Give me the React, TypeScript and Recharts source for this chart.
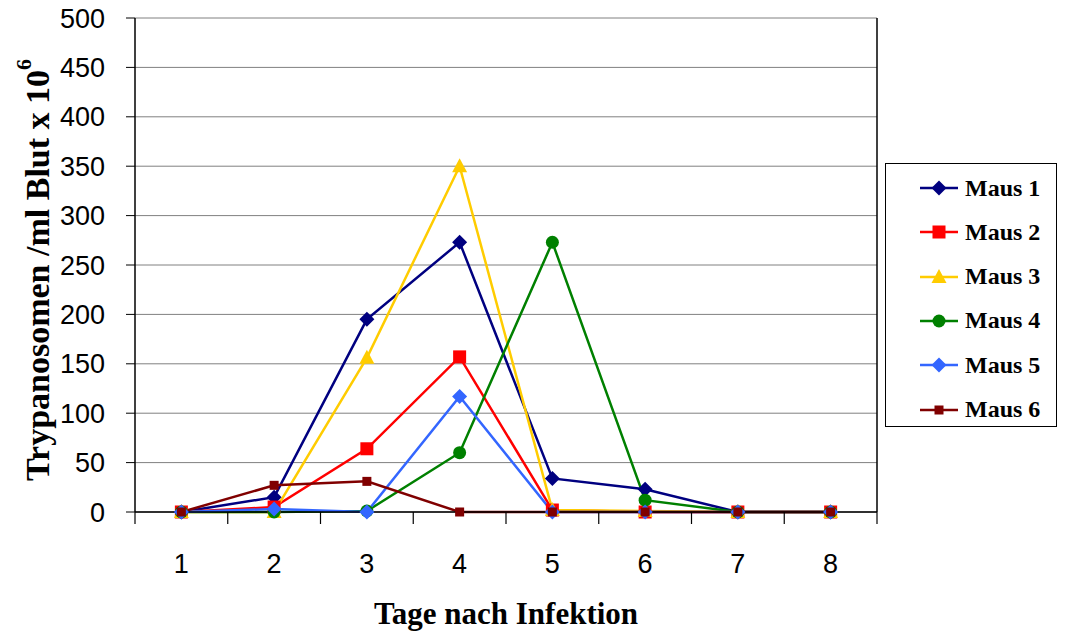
import { LineChart, Line, XAxis, YAxis, CartesianGrid, Label } from 'recharts';

const days = [1, 2, 3, 4, 5, 6, 7, 8];
const maus1 = [0, 15, 195, 273, 34, 23, 0, 0];
const maus2 = [0, 5, 64, 157, 2, 0, 0, 0];
const maus3 = [0, 0, 156, 350, 2, 1, 0, 0];
const maus4 = [0, 0, 1, 60, 273, 12, 0, 0];
const maus5 = [0, 3, 0, 117, 0, 0, 0, 0];
const maus6 = [0, 27, 31, 0, 0, 0, 0, 0];
const yTicks = [0, 50, 100, 150, 200, 250, 300, 350, 400, 450, 500];
const dividerTicks = [0.5, 1.5, 2.5, 3.5, 4.5, 5.5, 6.5, 7.5, 8.5];

type Shape = 'diamond' | 'square' | 'triangle' | 'circle' | 'smallSquare';

const series: { key: string; name: string; color: string; shape: Shape; values: number[] }[] = [
  { key: 'm1', name: 'Maus 1', color: '#000080', shape: 'diamond', values: maus1 },
  { key: 'm2', name: 'Maus 2', color: '#FF0000', shape: 'square', values: maus2 },
  { key: 'm3', name: 'Maus 3', color: '#FFCC00', shape: 'triangle', values: maus3 },
  { key: 'm4', name: 'Maus 4', color: '#008000', shape: 'circle', values: maus4 },
  { key: 'm5', name: 'Maus 5', color: '#3366FF', shape: 'diamond', values: maus5 },
  { key: 'm6', name: 'Maus 6', color: '#800000', shape: 'smallSquare', values: maus6 },
];

const data = days.map((day, i) => {
  const row: Record<string, number> = { day };
  series.forEach(s => {
    row[s.key] = s.values[i];
  });
  return row;
});

function Marker({ cx, cy, shape, color }: { cx: number; cy: number; shape: Shape; color: string }) {
  switch (shape) {
    case 'diamond':
      return <path d={`M${cx},${cy - 7.5}L${cx + 7.5},${cy}L${cx},${cy + 7.5}L${cx - 7.5},${cy}Z`} fill={color} />;
    case 'square':
      return <rect x={cx - 6.5} y={cy - 6.5} width={13} height={13} fill={color} />;
    case 'triangle':
      return <path d={`M${cx},${cy - 8}L${cx + 7.5},${cy + 6}L${cx - 7.5},${cy + 6}Z`} fill={color} />;
    case 'circle':
      return <circle cx={cx} cy={cy} r={6.5} fill={color} />;
    default:
      return <rect x={cx - 4.5} y={cy - 4.5} width={9} height={9} fill={color} />;
  }
}

const makeDot = (shape: Shape, color: string) => (props: any) => {
  const { cx, cy, index } = props;
  if (cx == null || cy == null) return <g key={`e-${index}`} />;
  return (
    <g key={`d-${index}`}>
      <Marker cx={cx} cy={cy} shape={shape} color={color} />
    </g>
  );
};

const YTitle = (props: any) => {
  const { viewBox } = props;
  const cx = 37;
  const cy = viewBox.y + viewBox.height / 2 + 5;
  return (
    <text
      x={cx}
      y={cy}
      transform={`rotate(-90 ${cx} ${cy})`}
      textAnchor="middle"
      dominantBaseline="central"
      fontFamily="'Liberation Serif', 'Times New Roman', serif"
      fontWeight="bold"
      fontSize={34}
      fill="#000"
    >
      Trypanosomen /ml Blut x 10
      <tspan fontSize={22} dy={-14}>6</tspan>
    </text>
  );
};

function LegendBox() {
  return (
    <div
      style={{
        position: 'absolute',
        left: 885,
        top: 163,
        width: 170,
        height: 262,
        border: '1px solid #000',
        background: '#fff',
        boxSizing: 'content-box',
      }}
    >
      {series.map((s, i) => (
        <div
          key={s.key}
          style={{ position: 'absolute', left: 0, top: 2 + i * 44.3, height: 44, width: 170, display: 'flex', alignItems: 'center' }}
        >
          <svg width={44} height={20} style={{ marginLeft: 32 }}>
            <line x1={2} y1={10} x2={40} y2={10} stroke={s.color} strokeWidth={2.5} />
            <Marker cx={21} cy={10} shape={s.shape} color={s.color} />
          </svg>
          <span
            style={{
              marginLeft: 3,
              fontFamily: "'Liberation Serif', 'Times New Roman', serif",
              fontWeight: 'bold',
              fontSize: 24,
              color: '#000',
            }}
          >
            {s.name}
          </span>
        </div>
      ))}
    </div>
  );
}

export default function App() {
  return (
    <div style={{ position: 'absolute', left: 0, top: 0, width: 1065, height: 632, background: '#fff' }}>
      <LineChart width={1065} height={632} data={data} margin={{ top: 18, right: 187, bottom: 0, left: 0 }}>
        <CartesianGrid vertical={false} stroke="#808080" strokeWidth={1} />
        <XAxis
          xAxisId="div"
          dataKey="day"
          type="number"
          domain={[0.5, 8.5]}
          ticks={dividerTicks}
          height={1}
          tick={() => <g />}
          tickSize={12}
          tickLine={{ stroke: '#000', strokeWidth: 1.2 }}
          axisLine={{ stroke: '#000', strokeWidth: 1.5 }}
        />
        <XAxis
          xAxisId="lab"
          dataKey="day"
          type="number"
          domain={[0.5, 8.5]}
          ticks={days}
          height={119}
          tickLine={false}
          axisLine={false}
          tickMargin={35}
          tick={{ fill: '#000', fontSize: 27, fontFamily: "'Liberation Sans', Arial, sans-serif" }}
        >
          <Label
            value="Tage nach Infektion"
            position="insideBottom"
            offset={8}
            style={{ fontFamily: "'Liberation Serif', 'Times New Roman', serif", fontWeight: 'bold', fontSize: 31, fill: '#000' }}
          />
        </XAxis>
        <YAxis
          domain={[0, 500]}
          ticks={yTicks}
          width={135}
          tickSize={9}
          tickMargin={21}
          tickLine={{ stroke: '#000' }}
          axisLine={{ stroke: '#000', strokeWidth: 1.5 }}
          tick={{ fill: '#000', fontSize: 27, fontFamily: "'Liberation Sans', Arial, sans-serif" }}
          label={<YTitle />}
        />
        <YAxis
          yAxisId="right"
          orientation="right"
          width={1}
          domain={[0, 500]}
          tick={false}
          tickLine={false}
          axisLine={{ stroke: '#000', strokeWidth: 1.5 }}
        />
        {/* invisible series so the divider x-axis and right frame axis get drawn */}
        <Line
          xAxisId="div"
          yAxisId="right"
          dataKey="m1"
          stroke="none"
          dot={false}
          activeDot={false}
          legendType="none"
          isAnimationActive={false}
        />
        {series.map(s => (
          <Line
            key={s.key}
            xAxisId="lab"
            dataKey={s.key}
            name={s.name}
            stroke={s.color}
            strokeWidth={2.5}
            dot={makeDot(s.shape, s.color)}
            activeDot={false}
            isAnimationActive={false}
          />
        ))}
      </LineChart>
      <LegendBox />
    </div>
  );
}
